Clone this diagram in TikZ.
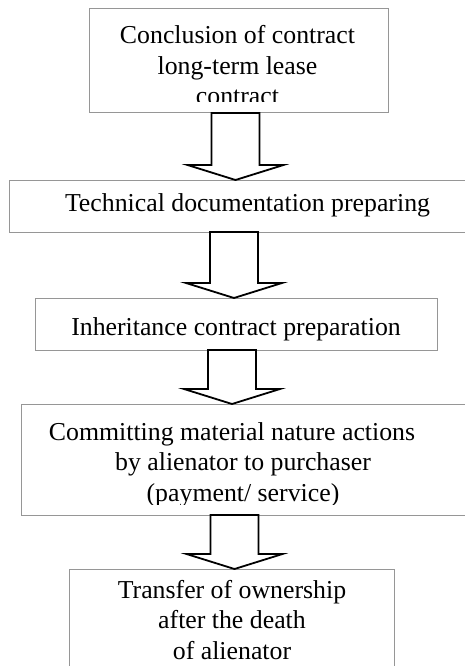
\documentclass[tikz,border=0pt]{standalone}
\usepackage{fontspec}
\setmainfont{Liberation Serif}
\usetikzlibrary{calc}
\definecolor{boxgray}{RGB}{150,150,150}
\tikzset{
  box/.style={draw=boxgray, line width=1pt, rectangle, inner sep=0pt, outer sep=0pt, anchor=north west},
  boxtext/.style={inner sep=0pt, outer sep=0pt, anchor=base, align=center,
    font=\fontsize{25.8}{30.5}\selectfont},
  blockarrow/.style={draw=black, line width=1.8pt, line join=miter,
    to path={([xshift=-24pt]\tikztostart) -- ([xshift=-24pt,yshift=15pt]\tikztotarget)
      -- ([xshift=-48pt,yshift=15pt]\tikztotarget) -- (\tikztotarget)
      -- ([xshift=48pt,yshift=15pt]\tikztotarget) -- ([xshift=24pt,yshift=15pt]\tikztotarget)
      -- ([xshift=24pt]\tikztostart) -- cycle}}
}
\begin{document}
\begin{tikzpicture}[x=1pt,y=-1pt]
\useasboundingbox (0,0) rectangle (465,666);
% boxes
\node[box, minimum width=299pt, minimum height=104.5pt] (b1) at (89,8.5) {};
\node[box, minimum width=461pt, minimum height=52pt] (b2) at (9,180) {};
\node[box, minimum width=402pt, minimum height=52pt] (b3) at (35,298) {};
\node[box, minimum width=449pt, minimum height=111pt] (b4) at (21,404) {};
\node[box, minimum width=325pt, minimum height=121pt] (b5) at (69,569) {};
% texts (base anchor = baseline of last line)
\begin{scope}
  \clip (89,8) rectangle (388,102);
  \node[boxtext] (t1) at (237.5,105) {Conclusion of contract\\long-term lease\\contract};
\end{scope}
\node[boxtext] (t2) at (247.5,211) {Technical documentation preparing};
\node[boxtext] (t3) at (236,335) {Inheritance contract preparation};
\begin{scope}
  \clip (21,404) rectangle (465,504);
  \node[boxtext] (t4) at (243,501) {Committing material nature actions\hspace*{22pt}\\by alienator to purchaser\\(payment/ service)};
\end{scope}
\node[boxtext] (t5) at (232,659) {Transfer of ownership\\after the death\\of alienator};
% arrows
\coordinate (x1) at (235.5,0);
\coordinate (x2) at (234,0);
\coordinate (x3) at (232,0);
\coordinate (x4) at (234.5,0);
\draw[blockarrow] (b1.south -| x1) to (b2.north -| x1);
\draw[blockarrow] (b2.south -| x2) to (b3.north -| x2);
\draw[blockarrow] (b3.south -| x3) to (b4.north -| x3);
\draw[blockarrow] (b4.south -| x4) to (b5.north -| x4);
\end{tikzpicture}
\end{document}
